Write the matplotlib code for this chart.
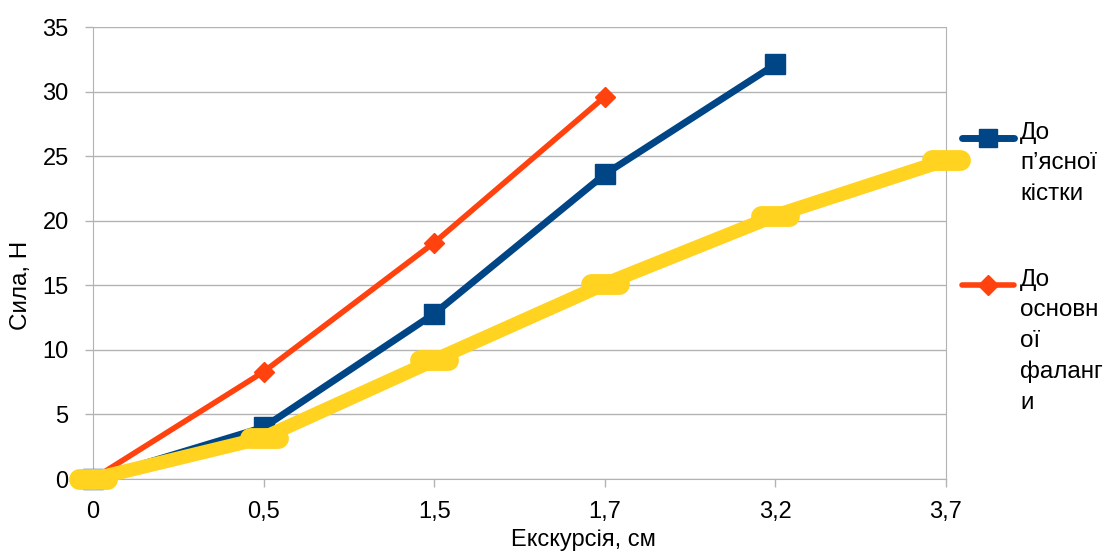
import numpy as np
import matplotlib.pyplot as plt
from matplotlib.lines import Line2D
from matplotlib.markers import MarkerStyle

plt.rcParams['font.family'] = ['Liberation Sans', 'DejaVu Sans']

# екскурсія (категорії осі X) та сила для трьох серій
kategorii = ["0", "0,5", "1,5", "1,7", "3,2", "3,7"]
syla_pyasna = [0, 4.0, 12.8, 23.6, 32.1]
syla_falanga = [0, 8.3, 18.3, 29.6]
syla_tretia = [0, 3.2, 9.2, 15.1, 20.4, 24.7]

nazva_pyasna = "До\nп’ясної\nкістки"
nazva_falanga = "До\nосновн\nої\nфаланг\nи"

syniy = "#004586"
pomaranch = "#ff420e"
zhovtyi = "#ffd320"
sirij = "#b3b3b3"

W, H = 1112, 551
fig = plt.figure(figsize=(W / 100, H / 100), dpi=100)
ax = fig.add_axes([93 / W, 1 - 479 / H, (946 - 93) / W, (479 - 27) / H])

x = np.arange(len(kategorii))

# маркери на краях осей не обрізаються
ax.plot(x[:len(syla_pyasna)], syla_pyasna, color=syniy, lw=5,
        marker="s", ms=14, zorder=3, clip_on=False)
ax.plot(x[:len(syla_falanga)], syla_falanga, color=pomaranch, lw=4,
        marker="D", ms=10, zorder=4, clip_on=False)
bar_marker = MarkerStyle("_", capstyle="round")
ax.plot(x[:len(syla_tretia)], syla_tretia, color=zhovtyi, lw=10,
        marker=bar_marker, ms=20, mew=15, solid_joinstyle="round",
        solid_capstyle="round", zorder=5, clip_on=False)

ax.set_xlim(0, len(kategorii) - 1)
ax.set_ylim(0, 35)
ax.set_xticks(x)
ax.set_xticklabels(kategorii)
ax.set_yticks(np.arange(0, 36, 5))
ax.tick_params(axis="both", labelsize=17, color=sirij, length=5.5, width=1)
ax.tick_params(axis="x", pad=10)
ax.tick_params(axis="y", pad=12)

ax.grid(axis="y", color=sirij, lw=1)
ax.set_axisbelow(True)
for side in ["left", "right", "bottom"]:
    ax.spines[side].set_color(sirij)
ax.spines["top"].set_visible(False)
for l in ax.get_xticklines() + ax.get_yticklines():
    l.set_clip_on(False)

ax.set_xlabel("Екскурсія, см", fontsize=17)
ax.xaxis.set_label_coords((583 - 93) / (946 - 93), -(529 - 479) / (479 - 27))
ax.set_ylabel("Сила, Н", fontsize=17.5)
ax.yaxis.set_label_coords(-(93 - 32) / (946 - 93), (479 - 285) / (479 - 27))

# легенда праворуч
def legenda(y_px, kolir, marker, ms, lw, tekst):
    y = 1 - y_px / H
    fig.add_artist(Line2D([962 / W, 1014 / W], [y, y], color=kolir,
                          lw=lw, solid_capstyle="round"))
    fig.add_artist(Line2D([988 / W], [y], color=kolir, marker=marker,
                          ms=ms, lw=0))
    fig.text(1020 / W, y + 16 / H, tekst, fontsize=17.5, va="top",
             ha="left", linespacing=1.5)

legenda(138, syniy, "s", 13, 5, nazva_pyasna)
legenda(285, pomaranch, "D", 10, 4, nazva_falanga)

fig.savefig("out.png", dpi=100)
